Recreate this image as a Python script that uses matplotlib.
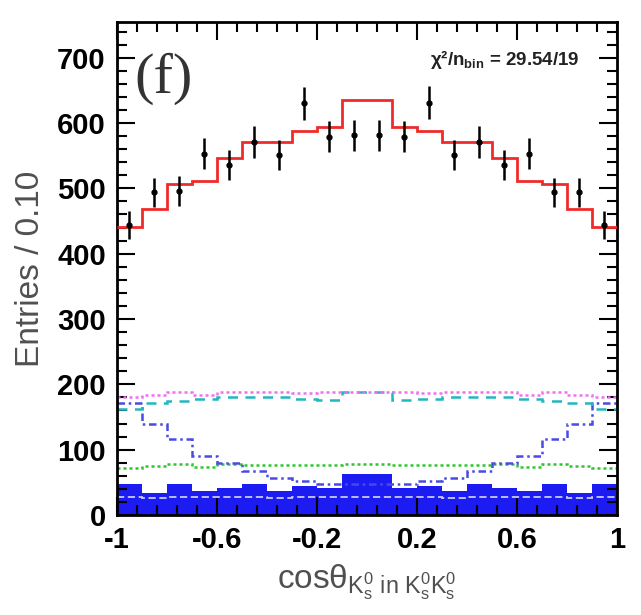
import matplotlib.pyplot as plt
import numpy as np

plt.rcParams['font.family'] = ['Liberation Sans', 'DejaVu Sans']
plt.rcParams['mathtext.fontset'] = 'custom'
plt.rcParams['mathtext.rm'] = 'Liberation Sans'
plt.rcParams['mathtext.it'] = 'Liberation Sans:italic'
plt.rcParams['mathtext.bf'] = 'Liberation Sans:bold'

# 20 bins in cos(theta), width 0.10
edges = np.linspace(-1, 1, 21)
centers = 0.5 * (edges[:-1] + edges[1:])

data = [444, 494, 496, 553, 536, 571, 551, 630, 579, 581,
        581, 579, 631, 551, 571, 536, 553, 494, 494, 444]
fit_total = [441, 468, 507, 512, 547, 571, 571, 588, 594, 635,
             635, 594, 588, 571, 571, 547, 512, 507, 468, 441]
comp_magenta = [181, 184, 189, 184, 188, 189, 188, 187, 188, 189,
                189, 188, 187, 188, 189, 188, 184, 189, 184, 181]
comp_cyan = [163, 171, 175, 178, 180, 181, 180, 177, 176, 188,
             188, 176, 177, 180, 181, 180, 178, 175, 171, 163]
comp_blue = [172, 140, 116, 90, 79, 67, 57, 52, 47, 47,
             47, 47, 52, 57, 67, 79, 90, 116, 140, 172]
comp_green = [72, 75, 78, 74, 78, 77, 77, 76, 77, 78,
              78, 77, 76, 77, 77, 78, 74, 78, 75, 72]
comp_light = [27, 26, 27, 27, 28, 27, 26, 27, 28, 27,
              27, 28, 27, 26, 27, 28, 27, 27, 26, 27]
bkg_filled = [47, 33, 47, 36, 42, 47, 36, 44, 42, 62,
              62, 42, 44, 36, 47, 42, 36, 47, 33, 47]

fig = plt.figure(figsize=(6.41, 6.15), dpi=100)
ax = fig.add_axes([0.1825, 0.1626, 0.780, 0.802])

# filled background histogram
ax.stairs(bkg_filled, edges, fill=True, color='#1c1cf2', zorder=1)

# fit components (no vertical drop at the outer edges)
ax.stairs(comp_light, edges, baseline=None, color='#c8c8ff', lw=1.3, ls=(0, (4, 2)), zorder=2)
ax.stairs(comp_green, edges, baseline=None, color='#2ec62e', lw=1.8, ls=(0, (1.2, 1.2)), zorder=2)
ax.stairs(comp_blue, edges, baseline=None, color='#4a4ae6', lw=1.8, ls=(0, (3, 1.5, 1, 1.5)), zorder=2)
ax.stairs(comp_cyan, edges, baseline=None, color='#20b8c0', lw=1.8, ls=(0, (4, 3)), zorder=2)
ax.stairs(comp_magenta, edges, baseline=None, color='#f070f0', lw=1.8, ls=(0, (1.2, 1.2)), zorder=2)

# total fit
ax.stairs(fit_total, edges, baseline=None, color='#f02a2a', lw=2.0, zorder=3)

# data points
ax.errorbar(centers, data, yerr=np.sqrt(data), fmt='o', color='black',
            ms=3.5, elinewidth=1.8, capsize=0, zorder=4)

ax.set_xlim(-1, 1)
ax.set_ylim(0, 755)
ax.set_xticks([-1, -0.6, -0.2, 0.2, 0.6, 1])
ax.set_xticklabels(['-1', '-0.6', '-0.2', '0.2', '0.6', '1'])
ax.set_xticks(np.arange(-1, 1.001, 0.08), minor=True)
ax.set_yticks(np.arange(0, 701, 100))
ax.set_yticks(np.arange(0, 751, 20), minor=True)

ax.tick_params(which='both', direction='in', top=True, right=True, width=1.5)
ax.tick_params(which='major', length=13, labelsize=21, pad=8)
ax.tick_params(which='minor', length=7)
for lab in ax.get_xticklabels() + ax.get_yticklabels():
    lab.set_fontweight('bold')
for s in ax.spines.values():
    s.set_linewidth(2)

ax.set_ylabel('Entries / 0.10', fontsize=24, color='#505050', labelpad=8)
ax.set_xlabel(r'cos$\mathrm{\theta}_{\mathrm{K_s^0\ in\ K_s^0K_s^0}}$',
              fontsize=24, color='#505050', labelpad=6)

ax.text(0.035, 0.885, '(f)', transform=ax.transAxes, fontsize=42,
        family='Liberation Serif', color='#333333', va='center', ha='left')
ax.text(0.926, 0.912, r'χ²/n$_{\mathbf{bin}}$ = 29.54/19', transform=ax.transAxes,
        fontsize=13.5, fontweight='bold', color='#222222', ha='right', va='baseline')

fig.savefig('out.png', dpi=100)
